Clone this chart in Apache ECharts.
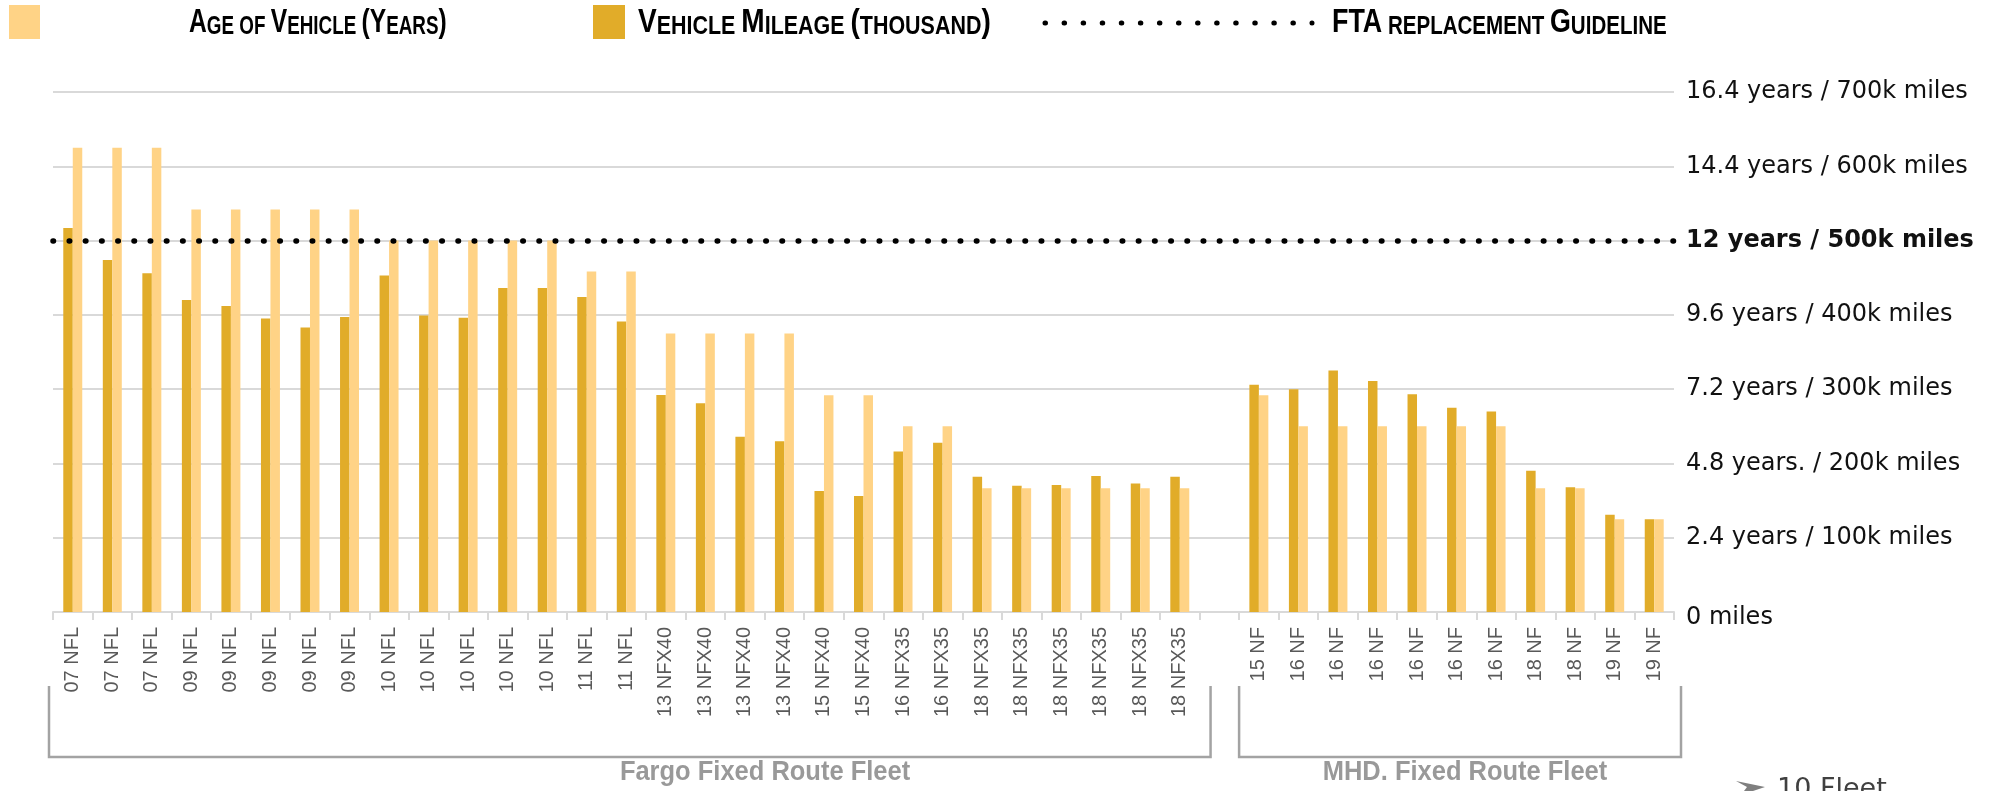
<!DOCTYPE html>
<html>
<head>
<meta charset="utf-8">
<script src="https://cdn.jsdelivr.net/npm/echarts@6/dist/echarts.min.js"></script>
<style>
  html, body { margin: 0; padding: 0; background: #ffffff; }
  #chart { width: 2007px; height: 791px; }
</style>
</head>
<body>
<div id="chart"></div>
<script>
// Fleet vehicles (one slot left empty between the two fleets)
const categories = [
  '07 NFL', '07 NFL', '07 NFL',
  '09 NFL', '09 NFL', '09 NFL', '09 NFL', '09 NFL',
  '10 NFL', '10 NFL', '10 NFL', '10 NFL', '10 NFL',
  '11 NFL', '11 NFL',
  '13 NFX40', '13 NFX40', '13 NFX40', '13 NFX40',
  '15 NFX40', '15 NFX40',
  '16 NFX35', '16 NFX35',
  '18 NFX35', '18 NFX35', '18 NFX35', '18 NFX35', '18 NFX35', '18 NFX35',
  '',
  '15 NF',
  '16 NF', '16 NF', '16 NF', '16 NF', '16 NF', '16 NF',
  '18 NF', '18 NF',
  '19 NF', '19 NF'
];

// Age of each vehicle, in years
const ageYears = [
  15, 15, 15,
  13, 13, 13, 13, 13,
  12, 12, 12, 12, 12,
  11, 11,
  9, 9, 9, 9,
  7, 7,
  6, 6,
  4, 4, 4, 4, 4, 4,
  null,
  7,
  6, 6, 6, 6, 6, 6,
  4, 4,
  3, 3
];

// Mileage of each vehicle, in thousand miles
const mileageK = [
  517, 474, 456,
  420, 412, 395, 383, 397,
  453, 399, 396, 436, 436,
  424, 391,
  292, 281, 236, 230,
  163, 156,
  216, 228,
  182, 170, 171, 183, 173, 182,
  null,
  306,
  300, 325, 311, 293, 275, 270,
  190, 168,
  131, 125
];

// Right-hand axis labels, from 0 upward (each step = 2.4 years / 100k miles)
const tickLabels = [
  '0 miles',
  '2.4 years / 100k miles',
  '4.8 years. / 200k miles',
  '7.2 years / 300k miles',
  '9.6 years / 400k miles',
  '12 years / 500k miles',
  '14.4 years / 600k miles',
  '16.4 years / 700k miles'
];

// FTA replacement guideline (thousand miles)
const guidelineK = 500;

// Fleet groups as category index ranges
const fleetNames = ['Fargo Fixed Route Fleet', 'MHD. Fixed Route Fleet'];
const fleetFirst = [0, 30];
const fleetLast = [28, 40];

const legendNames = ['Age of Vehicle (Years)', 'Vehicle Mileage (thousand)', 'FTA replacement Guideline'];

const DARK = '#E1AC29';
const LIGHT = '#FFD386';
const GRID_COLOR = '#D9D9D9';
const BRACKET_COLOR = '#A3A3A3';

const chart = echarts.init(document.getElementById('chart'), null, { renderer: 'canvas' });

const legendFont = "'Liberation Sans', Arial, sans-serif";
const capsRich = {
  b: { fontSize: 34, fontFamily: legendFont, fontWeight: 'bold', fill: '#000', verticalAlign: 'bottom', lineHeight: 36 },
  s: { fontSize: 26, fontFamily: legendFont, fontWeight: 'bold', fill: '#000', verticalAlign: 'bottom', lineHeight: 32 }
};
const axisFont = "'DejaVu Sans', sans-serif";

const option = {
  animation: false,
  backgroundColor: '#ffffff',
  grid: { left: 53, right: 333, top: 92, height: 520, containLabel: false },
  xAxis: {
    type: 'category',
    data: categories,
    boundaryGap: true,
    axisLine: { lineStyle: { color: GRID_COLOR, width: 2 } },
    axisTick: { show: true, interval: 0, length: 8, lineStyle: { color: GRID_COLOR, width: 2 } },
    axisLabel: {
      interval: 0, rotate: 90, margin: 15,
      color: '#595959', fontSize: 20, fontFamily: "'Liberation Sans', Arial, sans-serif"
    }
  },
  yAxis: [
    { type: 'value', min: 0, max: 16.8, interval: 2.4, show: false },
    {
      type: 'value', position: 'right', min: 0, max: 700, interval: 100,
      axisLine: { show: false }, axisTick: { show: false },
      splitLine: { show: true, lineStyle: { color: GRID_COLOR, width: 2 } },
      axisLabel: {
        margin: 12,
        formatter: function (v) {
          const t = tickLabels[Math.round(v / 100)];
          if (v === guidelineK) return '{b|' + t + '}';
          if (v === 0) return '{z|' + t + '}';
          return '{n|' + t + '}';
        },
        rich: {
          n: { fontSize: 24, fontFamily: axisFont, color: '#111111' },
          z: { fontSize: 24, fontFamily: axisFont, color: '#111111', padding: [12, 0, 0, 0] },
          b: { fontSize: 24, fontFamily: axisFont, color: '#111111', fontWeight: 'bold' }
        }
      }
    }
  ],
  series: [
    {
      name: legendNames[1], type: 'bar', yAxisIndex: 1, data: mileageK,
      barWidth: '24%', barGap: '0%', itemStyle: { color: DARK }
    },
    {
      name: legendNames[0], type: 'bar', yAxisIndex: 0, data: ageYears,
      barWidth: '24%', barGap: '0%', itemStyle: { color: LIGHT }
    },
    {
      name: legendNames[2], type: 'line', yAxisIndex: 1, data: [], symbol: 'none', z: 5,
      markLine: {
        silent: true, symbol: ['none', 'none'], label: { show: false },
        lineStyle: { color: '#000000', width: 5.5, type: [0.5, 15.7], cap: 'round' },
        data: [{ yAxis: guidelineK }]
      }
    }
  ]
};

chart.setOption(option);

// Fleet brackets and labels placed from the category axis
const c0 = chart.convertToPixel({ xAxisIndex: 0 }, 0);
const c1 = chart.convertToPixel({ xAxisIndex: 0 }, 1);
const band = c1 - c0;
const edge = function (i) { return c0 - band / 2 + i * band; };

const bracketTop = 686, bracketBottom = 757;
const bracketLeft = [edge(fleetFirst[0]) - 4, edge(fleetFirst[1])];
const bracketRight = [edge(fleetLast[0] + 1) + 11, edge(fleetLast[1] + 1) + 7];
const fleetLabelX = [765, 1465];

const elements = [];
for (let g = 0; g < fleetNames.length; g++) {
  elements.push({
    type: 'polyline', silent: true,
    shape: { points: [[bracketLeft[g], bracketTop], [bracketLeft[g], bracketBottom], [bracketRight[g], bracketBottom], [bracketRight[g], bracketTop]] },
    style: { stroke: BRACKET_COLOR, lineWidth: 2.5, fill: null }
  });
  elements.push({
    type: 'text', silent: true, x: fleetLabelX[g], y: 772, scaleX: 0.91,
    style: {
      text: fleetNames[g], fill: '#999999', fontSize: 28, fontWeight: 'bold',
      fontFamily: "'Liberation Sans', Arial, sans-serif",
      align: 'center', verticalAlign: 'middle'
    }
  });
}

// Legend row
elements.push(
  { type: 'rect', silent: true, shape: { x: 9, y: 5, width: 31, height: 34 }, style: { fill: LIGHT } },
  {
    type: 'text', silent: true, x: 189, y: 4, scaleX: 0.725,
    style: { text: '{b|A}{s|GE OF }{b|V}{s|EHICLE }{b|(Y}{s|EARS}{b|)}', rich: capsRich }
  },
  { type: 'rect', silent: true, shape: { x: 593, y: 5, width: 32, height: 34 }, style: { fill: DARK } },
  {
    type: 'text', silent: true, x: 638, y: 4, scaleX: 0.825,
    style: { text: '{b|V}{s|EHICLE }{b|M}{s|ILEAGE }{b|(}{s|THOUSAND}{b|)}', rich: capsRich }
  },
  {
    type: 'line', silent: true, shape: { x1: 1045, y1: 23, x2: 1312, y2: 23 },
    style: { stroke: '#000000', lineWidth: 5, lineDash: [0.5, 18.57], lineCap: 'round' }
  },
  {
    type: 'text', silent: true, x: 1332, y: 4, scaleX: 0.79,
    style: { text: '{b|FTA}{s| REPLACEMENT }{b|G}{s|UIDELINE}', rich: capsRich }
  }
);

// Footer note, cut by the bottom edge
elements.push(
  {
    type: 'polygon', silent: true,
    shape: { points: [[1736, 781], [1765, 787], [1741, 795], [1747, 787]] },
    style: { fill: '#7F7F7F' }
  },
  {
    type: 'text', silent: true, x: 1777, y: 776,
    style: { text: '10 Fleet', fill: '#404040', fontSize: 27, fontFamily: axisFont, verticalAlign: 'top' }
  }
);

chart.setOption({ graphic: { elements: elements } });
</script>
</body>
</html>
